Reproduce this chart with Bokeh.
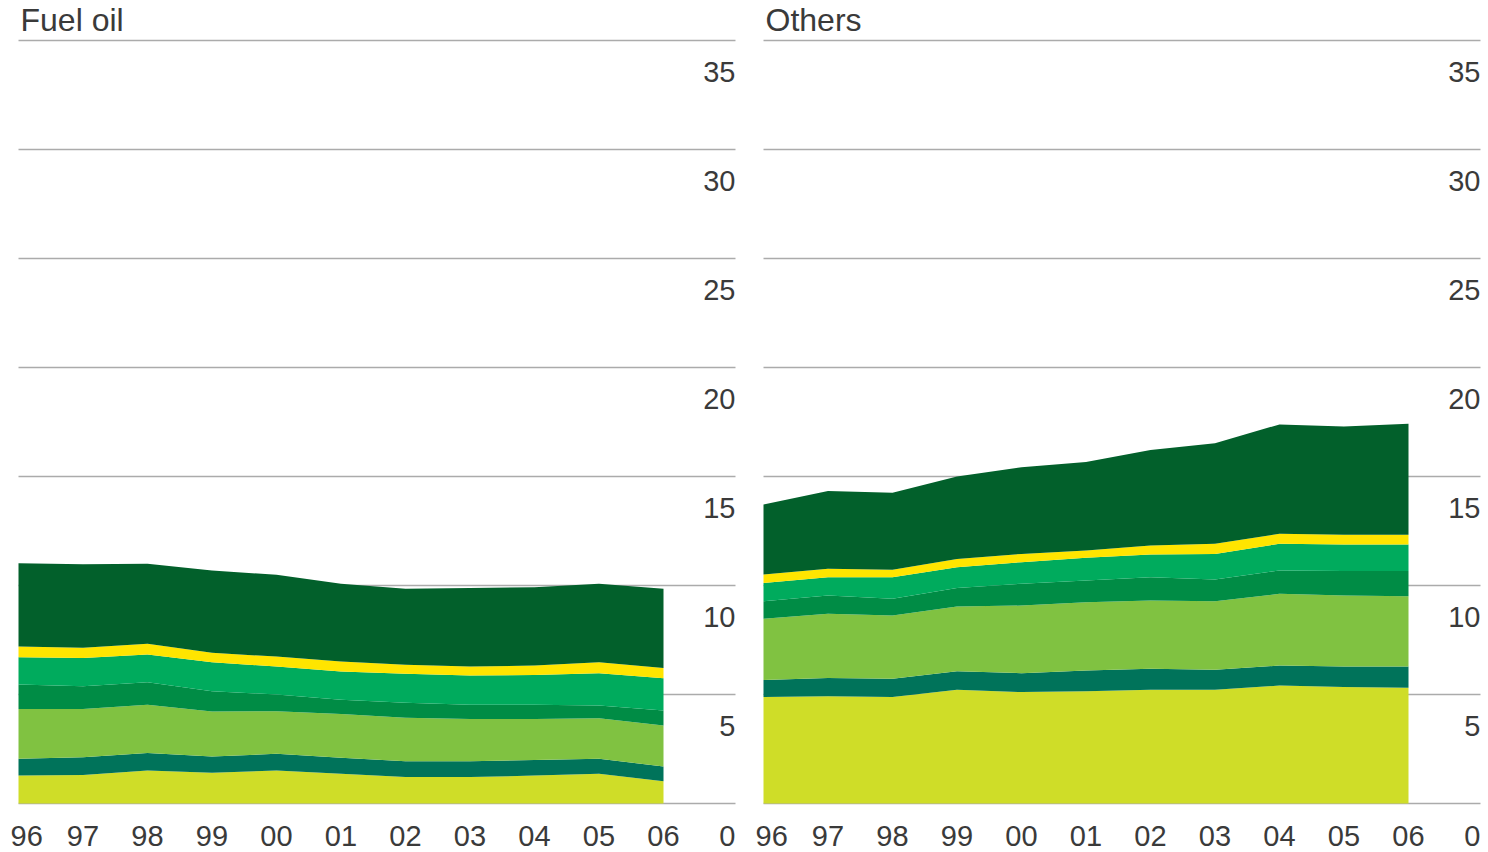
from bokeh.plotting import figure
from bokeh.models import ColumnDataSource, Range1d
from bokeh.layouts import row
from bokeh.embed import file_html
from bokeh.resources import INLINE
from bokeh.core.properties import value

# ---------------- data ----------------
years = [1996, 1997, 1998, 1999, 2000, 2001, 2002, 2003, 2004, 2005, 2006]
year_labels = ["96", "97", "98", "99", "00", "01", "02", "03", "04", "05", "06"]
y_ticks = [0, 5, 10, 15, 20, 25, 30, 35]
panel_titles = ["Fuel oil", "Others"]

layer_names = ["l1", "l2", "l3", "l4", "l5", "l6", "l7"]
layer_colors = ["#cfdd28", "#00735a", "#80c241", "#008c45", "#00ab5d", "#ffe500", "#02602b"]

# Fuel oil layers (bottom to top)
fuel_l1 = [1.28, 1.31, 1.51, 1.41, 1.51, 1.36, 1.21, 1.21, 1.28, 1.36, 1.02]
fuel_l2 = [0.77, 0.81, 0.81, 0.75, 0.77, 0.74, 0.73, 0.73, 0.72, 0.69, 0.68]
fuel_l3 = [2.29, 2.22, 2.21, 2.06, 1.95, 2.00, 1.99, 1.94, 1.88, 1.86, 1.88]
fuel_l4 = [1.12, 1.04, 1.03, 0.93, 0.77, 0.66, 0.69, 0.65, 0.65, 0.59, 0.69]
fuel_l5 = [1.25, 1.30, 1.27, 1.33, 1.28, 1.30, 1.33, 1.34, 1.37, 1.48, 1.48]
fuel_l6 = [0.49, 0.46, 0.50, 0.43, 0.46, 0.45, 0.41, 0.41, 0.43, 0.50, 0.46]
fuel_l7 = [3.82, 3.84, 3.67, 3.78, 3.75, 3.57, 3.49, 3.60, 3.59, 3.60, 3.64]

# Others layers (bottom to top)
oth_l1 = [4.88, 4.92, 4.88, 5.22, 5.11, 5.15, 5.22, 5.22, 5.41, 5.34, 5.31]
oth_l2 = [0.79, 0.84, 0.84, 0.85, 0.87, 0.95, 0.96, 0.91, 0.92, 0.94, 0.97]
oth_l3 = [2.80, 2.94, 2.90, 2.97, 3.10, 3.13, 3.13, 3.15, 3.29, 3.26, 3.23]
oth_l4 = [0.81, 0.84, 0.77, 0.85, 1.00, 1.00, 1.07, 1.00, 1.07, 1.12, 1.15]
oth_l5 = [0.83, 0.84, 0.99, 0.95, 0.99, 1.04, 1.04, 1.17, 1.22, 1.22, 1.22]
oth_l6 = [0.39, 0.39, 0.34, 0.38, 0.38, 0.33, 0.41, 0.46, 0.46, 0.45, 0.45]
oth_l7 = [3.22, 3.56, 3.53, 3.78, 3.98, 4.06, 4.39, 4.62, 5.02, 4.96, 5.09]

fuel_layers = [fuel_l1, fuel_l2, fuel_l3, fuel_l4, fuel_l5, fuel_l6, fuel_l7]
oth_layers = [oth_l1, oth_l2, oth_l3, oth_l4, oth_l5, oth_l6, oth_l7]

# ---------------- layout (pixels) ----------------
PX_YEAR = 64.5        # px per year
PX_UNIT = 21.8        # px per value unit
GRID_W = 717          # grid line length
ZERO_FROM_TOP = 803   # canvas top -> zero line
HEIGHT = 852
FONT = value("Liberation Sans")
TXT = "#3a3a3a"
GRID = "#ababab"


def make_panel(title, layers, width, left_pad):
    x0 = years[0] - left_pad / PX_YEAR
    x1 = x0 + width / PX_YEAR
    y1 = ZERO_FROM_TOP / PX_UNIT
    y0 = -(HEIGHT - ZERO_FROM_TOP) / PX_UNIT
    p = figure(width=width, height=HEIGHT, x_range=Range1d(x0, x1), y_range=Range1d(y0, y1),
               output_backend="svg", toolbar_location=None, min_border=0,
               x_axis_location=None, y_axis_location=None, outline_line_color=None,
               background_fill_color="white", border_fill_color="white")
    p.grid.visible = False
    grid_end = years[0] + GRID_W / PX_YEAR

    # grid lines
    p.segment(x0=[years[0]] * len(y_ticks), x1=[grid_end] * len(y_ticks),
              y0=y_ticks, y1=y_ticks, line_color=GRID, line_width=1.5)

    # stacked areas
    data = {"x": years}
    for n, vals in zip(layer_names, layers):
        data[n] = vals
    src = ColumnDataSource(data)
    p.varea_stack(stackers=layer_names, x="x", color=layer_colors, source=src)

    # title
    p.text(x=[years[0] + 2 / PX_YEAR], y=[y_ticks[-1] + 21 / PX_UNIT], text=[title],
           text_font=FONT, text_font_size="32px", text_color=TXT,
           text_align="left", text_baseline="alphabetic")

    # y tick labels (inside, right, below each line)
    ylab_y = [v - 31 / PX_UNIT for v in y_ticks[1:]]
    p.text(x=[grid_end] * (len(y_ticks) - 1), y=ylab_y, text=[str(v) for v in y_ticks[1:]],
           text_font=FONT, text_font_size="29px", text_color=TXT,
           text_align="right", text_baseline="alphabetic")
    # "0" label in the x-label row
    p.text(x=[grid_end], y=[y_ticks[0] - 32 / PX_UNIT], text=[str(y_ticks[0])],
           text_font=FONT, text_font_size="29px", text_color=TXT,
           text_align="right", text_baseline="alphabetic")

    # x labels
    p.text(x=[years[0] - 8 / PX_YEAR], y=[-32 / PX_UNIT], text=[year_labels[0]],
           text_font=FONT, text_font_size="29px", text_color=TXT,
           text_align="left", text_baseline="alphabetic")
    p.text(x=years[1:], y=[-32 / PX_UNIT] * (len(years) - 1), text=year_labels[1:],
           text_font=FONT, text_font_size="29px", text_color=TXT,
           text_align="center", text_baseline="alphabetic")
    return p


p1 = make_panel(panel_titles[0], fuel_layers, 753, 18)
p2 = make_panel(panel_titles[1], oth_layers, 735, 10)
layout = row(p1, p2, spacing=0)

open("out.html", "w").write(file_html(layout, INLINE))
